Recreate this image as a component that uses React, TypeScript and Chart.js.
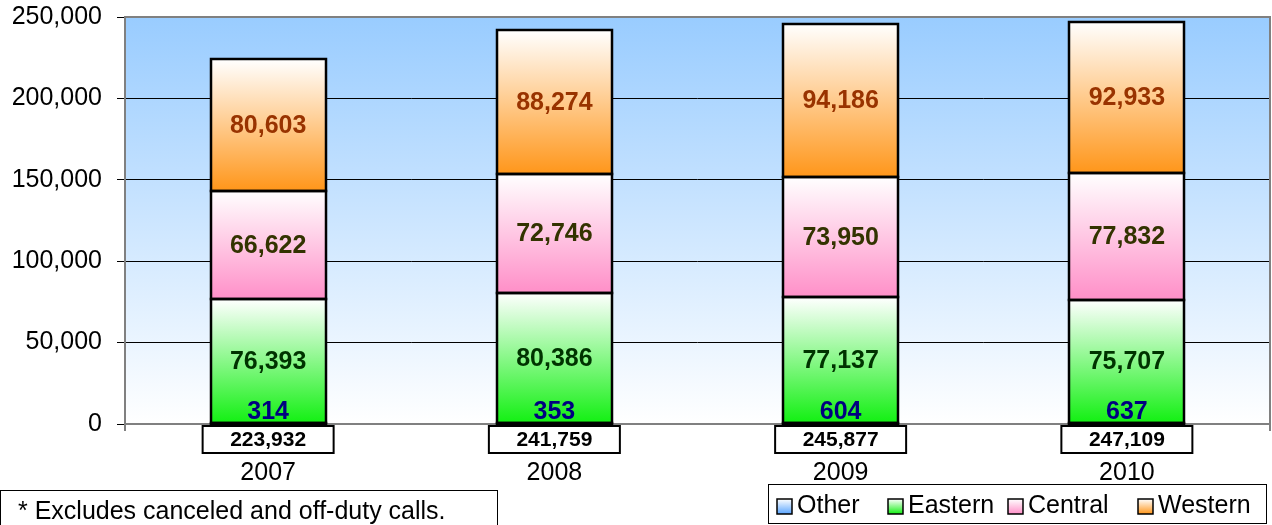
import { useEffect, useRef } from 'react';
import { Chart, registerables } from 'chart.js';

Chart.register(...registerables);

const years = ['2007', '2008', '2009', '2010'];
const other = [314, 353, 604, 637];
const eastern = [76393, 80386, 77137, 75707];
const central = [66622, 72746, 73950, 77832];
const western = [80603, 88274, 94186, 92933];
const totals = [223932, 241759, 245877, 247109];
const seriesNames = ['Other', 'Eastern', 'Central', 'Western'];
const footnote = '* Excludes canceled and off-duty calls.';
const yMin = 0;
const yMax = 250000;
const yStep = 50000;

const FONT = '"Liberation Sans", Arial, Helvetica, sans-serif';
const baseColors = ['#5aa5ff', '#12f012', '#ff8fc8', '#ff961a'];
const labelColors = ['#000080', '#003300', '#333300', '#993300'];
const fmt = (v: number) => v.toLocaleString('en-US');

function segGradient(c: any, dsIndex: number) {
  const color = baseColors[dsIndex];
  if (c.type !== 'data') return color;
  const chart = c.chart;
  const y = chart.scales && chart.scales.y;
  if (!y || !chart.chartArea) return color;
  const all = chart.data.datasets;
  let base = 0;
  for (let k = 0; k < dsIndex; k++) base += all[k].data[c.dataIndex] as number;
  const top = base + (all[dsIndex].data[c.dataIndex] as number);
  const y0 = y.getPixelForValue(base);
  const y1 = y.getPixelForValue(top);
  if (!isFinite(y0) || !isFinite(y1) || Math.abs(y0 - y1) < 1) return color;
  const g = chart.ctx.createLinearGradient(0, y1, 0, y0);
  g.addColorStop(0, '#ffffff');
  g.addColorStop(1, color);
  return g;
}

const decor = {
  id: 'decor',
  beforeDraw(chart: any) {
    const { ctx, chartArea: a } = chart;
    ctx.save();
    ctx.fillStyle = '#ffffff';
    ctx.fillRect(0, 0, chart.width, chart.height);
    const g = ctx.createLinearGradient(0, a.top, 0, a.bottom);
    g.addColorStop(0, '#99ccff');
    g.addColorStop(1, '#ffffff');
    ctx.fillStyle = g;
    ctx.fillRect(a.left, a.top, a.right - a.left, a.bottom - a.top);
    ctx.restore();
  },
  beforeDatasetsDraw(chart: any) {
    const { ctx, chartArea: a } = chart;
    ctx.save();
    ctx.strokeStyle = '#808080';
    ctx.lineWidth = 2;
    ctx.strokeRect(a.left, a.top, a.right - a.left, a.bottom - a.top);
    ctx.beginPath();
    ctx.moveTo(a.left, a.bottom);
    ctx.lineTo(a.left, a.bottom + 7);
    ctx.moveTo(a.right, a.bottom);
    ctx.lineTo(a.right, a.bottom + 7);
    ctx.stroke();
    ctx.restore();
  },
  afterDatasetsDraw(chart: any) {
    const { ctx } = chart;
    ctx.save();
    // segment outlines
    ctx.strokeStyle = '#000000';
    ctx.lineWidth = 2.5;
    chart.data.datasets.forEach((_ds: any, i: number) => {
      const meta = chart.getDatasetMeta(i);
      meta.data.forEach((el: any) => {
        const half = el.width / 2;
        const x0 = Math.round(el.x - half);
        const x1 = Math.round(el.x + half);
        const yt = Math.round(el.y);
        const yb = Math.round(el.base);
        ctx.strokeRect(x0, yt, x1 - x0, yb - yt);
      });
    });
    ctx.textAlign = 'center';
    ctx.textBaseline = 'middle';
    ctx.font = `bold 25px ${FONT}`;
    chart.data.datasets.forEach((ds: any, i: number) => {
      const meta = chart.getDatasetMeta(i);
      meta.data.forEach((el: any, j: number) => {
        const v = ds.data[j] as number;
        ctx.fillStyle = labelColors[i];
        const yPos = i === 0 ? el.base - 12 : (el.y + el.base) / 2;
        ctx.fillText(fmt(v), el.x, yPos + 1);
      });
    });
    ctx.restore();
  },
  afterDraw(chart: any) {
    const { ctx } = chart;
    const meta = chart.getDatasetMeta(0);
    ctx.save();
    meta.data.forEach((el: any, j: number) => {
      const w = 131;
      ctx.fillStyle = '#ffffff';
      ctx.fillRect(el.x - w / 2, 426, w, 27);
      ctx.strokeStyle = '#000000';
      ctx.lineWidth = 2;
      ctx.strokeRect(el.x - w / 2, 426, w, 27);
      ctx.fillStyle = '#000000';
      ctx.textAlign = 'center';
      ctx.textBaseline = 'middle';
      ctx.font = `bold 21px ${FONT}`;
      ctx.fillText(fmt(totals[j]), el.x, 440.5);
      ctx.font = `25px ${FONT}`;
      ctx.fillText(years[j], el.x, 473);
    });
    ctx.strokeStyle = '#000000';
    ctx.lineWidth = 1;
    ctx.strokeRect(0.5, 490.5, 497, 40);
    ctx.fillStyle = '#000000';
    ctx.textAlign = 'left';
    ctx.textBaseline = 'middle';
    ctx.font = `25px ${FONT}`;
    ctx.fillText(footnote, 18, 512);
    ctx.strokeRect(768.5, 484.5, 498, 39);
    const swatchX = [777, 888, 1008, 1138];
    seriesNames.forEach((name, i) => {
      const sx = swatchX[i];
      const sy = 499;
      const g = ctx.createLinearGradient(0, sy, 0, sy + 15);
      g.addColorStop(0, '#ffffff');
      g.addColorStop(1, baseColors[i]);
      ctx.fillStyle = g;
      ctx.fillRect(sx, sy, 15, 15);
      ctx.strokeStyle = '#000000';
      ctx.lineWidth = 1.5;
      ctx.strokeRect(sx, sy, 15, 15);
      ctx.fillStyle = '#000000';
      ctx.font = `25px ${FONT}`;
      ctx.fillText(name, sx + 20, 506);
    });
    ctx.restore();
  },
};

export default function App() {
  const ref = useRef<HTMLCanvasElement | null>(null);
  useEffect(() => {
    if (!ref.current) return;
    const seriesData = [other, eastern, central, western];
    const chart = new Chart(ref.current, {
      type: 'bar',
      data: {
        labels: years,
        datasets: seriesData.map((d, i) => ({
          label: seriesNames[i],
          data: d,
          backgroundColor: (c: any) => segGradient(c, i),
          borderWidth: 0,
          categoryPercentage: 1,
          barPercentage: 0.402,
        })),
      },
      options: {
        responsive: false,
        animation: false,
        layout: { padding: { top: 17, bottom: 101, right: 2, left: 0 } },
        plugins: { legend: { display: false }, tooltip: { enabled: false }, title: { display: false } },
        scales: {
          x: { stacked: true, display: false },
          y: {
            stacked: true,
            min: yMin,
            max: yMax,
            afterFit: (s: any) => {
              s.width = 125;
              s.paddingTop = 0;
              s.paddingBottom = 0;
            },
            ticks: {
              stepSize: yStep,
              color: '#000000',
              padding: 15,
              font: { family: FONT, size: 25 },
              callback: (v: any) => fmt(Number(v)),
            },
            grid: { color: '#000000', lineWidth: 1, tickLength: 8, tickColor: '#000000' },
            border: { display: false },
          },
        },
      },
      plugins: [decor],
    });
    return () => chart.destroy();
  }, []);
  return (
    <div style={{ position: 'absolute', left: 0, top: 0, width: 1272, height: 525 }}>
      <canvas ref={ref} width={1272} height={525} style={{ display: 'block' }} />
    </div>
  );
}
